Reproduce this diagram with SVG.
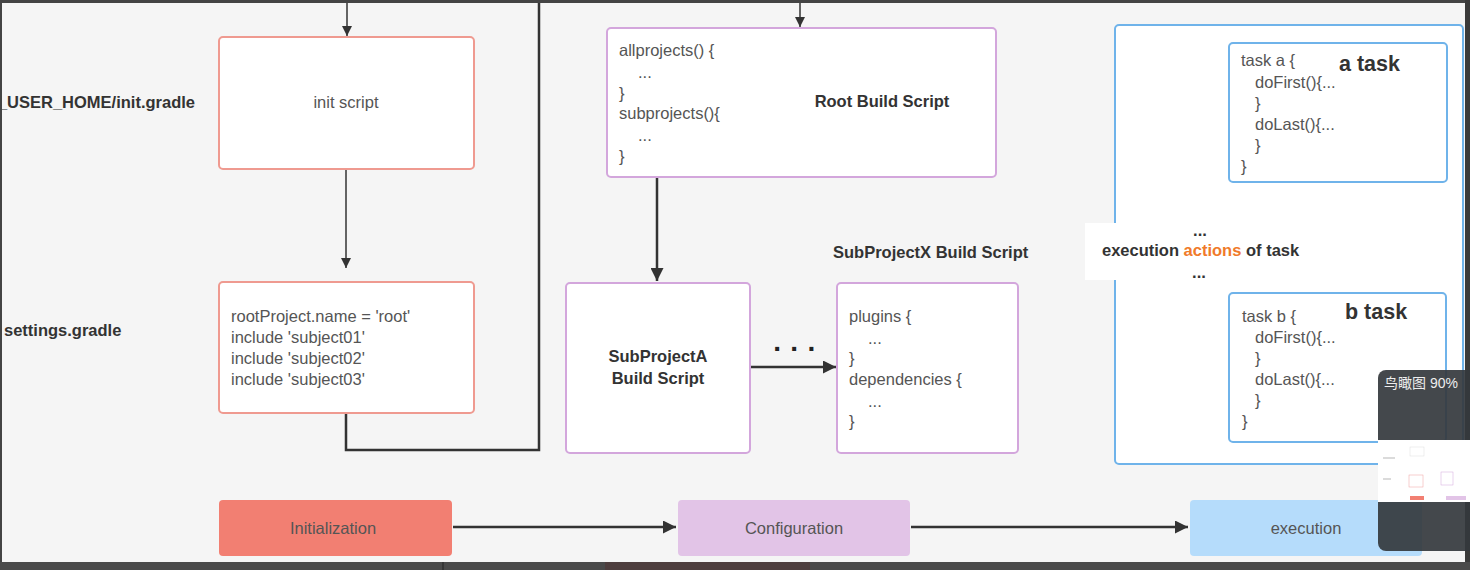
<svg xmlns="http://www.w3.org/2000/svg" width="1470" height="570" viewBox="0 0 1470 570">
<defs>
<style>
.t{font-family:"Liberation Sans",Arial,sans-serif;fill:#555;font-size:16.5px}
.b{font-family:"Liberation Sans",Arial,sans-serif;fill:#333;font-weight:bold;font-size:16.5px}
.big{font-family:"Liberation Sans",Arial,sans-serif;fill:#333;font-weight:bold;font-size:21.5px}
.red{fill:#fff;stroke:#ef9a90;stroke-width:2}
.pur{fill:#fff;stroke:#d3a6dc;stroke-width:2}
.blu{fill:#fff;stroke:#6fb3ea;stroke-width:2}
.ln{fill:none;stroke:#333;stroke-width:1.5}
.lnb{fill:none;stroke:#333;stroke-width:2.5}
</style>
<marker id="ah" viewBox="0 0 10 10" refX="10" refY="5" markerWidth="10" markerHeight="10" markerUnits="userSpaceOnUse" orient="auto"><path d="M0,0 L10,5 L0,10 z" fill="#333"/></marker>
<marker id="ahb" viewBox="0 0 10 10" refX="10" refY="5" markerWidth="13" markerHeight="13" markerUnits="userSpaceOnUse" orient="auto"><path d="M0,0 L10,5 L0,10 z" fill="#333"/></marker>
</defs>
<rect x="0" y="0" width="1470" height="570" fill="#f5f5f5"/>

<g id="labels">
<text class="b" x="195" y="108" text-anchor="end">_USER_HOME/init.gradle</text>
<text class="b" x="4" y="336">settings.gradle</text>
<text class="b" x="833" y="258">SubProjectX Build Script</text>
</g>

<g id="connectors">
<line class="ln" x1="347" y1="0" x2="347" y2="36" marker-end="url(#ah)"/>
<line class="ln" x1="346" y1="170" x2="346" y2="268" marker-end="url(#ah)"/>
<polyline class="lnb" points="346,413 346,450 539,450 539,0" stroke-width="2"/>
<line class="ln" x1="800" y1="0" x2="800" y2="27" marker-end="url(#ah)"/>
<line class="lnb" x1="657" y1="177" x2="657" y2="281" marker-end="url(#ahb)"/>
<line class="lnb" x1="750" y1="367" x2="836" y2="367" marker-end="url(#ahb)"/>
<line class="lnb" x1="1227" y1="114" x2="1201" y2="222" marker-end="url(#ahb)"/>
<line class="lnb" x1="1203" y1="283" x2="1228" y2="367" marker-end="url(#ahb)"/>
<line class="lnb" x1="453" y1="527" x2="676" y2="527" marker-end="url(#ahb)"/>
<line class="lnb" x1="911" y1="527" x2="1188" y2="527" marker-end="url(#ahb)"/>
</g>

<g id="init-script">
<rect class="red" x="219" y="37" width="255" height="132" rx="4"/>
<text class="t" x="346" y="108" text-anchor="middle">init script</text>
</g>

<g id="settings">
<rect class="red" x="219" y="282" width="255" height="131" rx="4"/>
<text class="t" x="231" y="322">rootProject.name = 'root'</text>
<text class="t" x="231" y="343">include 'subject01'</text>
<text class="t" x="231" y="364">include 'subject02'</text>
<text class="t" x="231" y="385">include 'subject03'</text>
</g>

<g id="root-build-script">
<rect class="pur" x="607" y="28" width="389" height="149" rx="4"/>
<text class="t" x="619" y="56">allprojects() {</text>
<text class="t" x="638" y="78">...</text>
<text class="t" x="619" y="99">}</text>
<text class="t" x="619" y="119">subprojects(){</text>
<text class="t" x="638" y="141">...</text>
<text class="t" x="619" y="162">}</text>
<text class="b" x="882" y="107" text-anchor="middle">Root Build Script</text>
</g>

<g id="subprojectA">
<rect class="pur" x="566" y="283" width="184" height="170" rx="4"/>
<text class="b" x="658" y="362" text-anchor="middle">SubProjectA</text>
<text class="b" x="658" y="384" text-anchor="middle">Build Script</text>
</g>

<g id="dots">
<text x="795" y="358" text-anchor="middle" font-family="'Liberation Sans',Arial,sans-serif" font-weight="bold" font-size="28" fill="#222">· · ·</text>
</g>

<g id="subprojectX">
<rect class="pur" x="837" y="283" width="181" height="170" rx="4"/>
<text class="t" x="849" y="322">plugins {</text>
<text class="t" x="868" y="344">...</text>
<text class="t" x="849" y="364">}</text>
<text class="t" x="849" y="385">dependencies {</text>
<text class="t" x="868" y="407">...</text>
<text class="t" x="849" y="427">}</text>
</g>

<g id="execution-area">
<rect class="blu" x="1115" y="25" width="348" height="439" rx="4"/>
</g>

<g id="task-a">
<rect class="blu" x="1229" y="43" width="218" height="139" rx="4"/>
<text class="t" x="1241" y="66">task a {</text>
<text class="t" x="1255" y="88">doFirst(){...</text>
<text class="t" x="1255" y="109">}</text>
<text class="t" x="1255" y="130">doLast(){...</text>
<text class="t" x="1255" y="151">}</text>
<text class="t" x="1241" y="172">}</text>
<text class="big" x="1339" y="71">a task</text>
</g>

<g id="actions-label">
<rect x="1085" y="223" width="215" height="57" fill="#fff"/>
<text class="b" x="1200" y="236" text-anchor="middle">...</text>
<text class="b" x="1102" y="256">execution <tspan fill="#f07a2a">actions</tspan> of task</text>
<text class="b" x="1199" y="278" text-anchor="middle">...</text>
</g>

<g id="task-b">
<rect class="blu" x="1229" y="293" width="217" height="149" rx="4"/>
<text class="t" x="1242" y="322">task b {</text>
<text class="t" x="1255" y="343">doFirst(){...</text>
<text class="t" x="1255" y="364">}</text>
<text class="t" x="1255" y="385">doLast(){...</text>
<text class="t" x="1255" y="406">}</text>
<text class="t" x="1242" y="427">}</text>
<text class="big" x="1345" y="319">b task</text>
</g>

<g id="initialization">
<rect x="219" y="500" width="233" height="56" rx="4" fill="#f27f72"/>
<text class="t" x="333" y="534" text-anchor="middle">Initialization</text>
</g>
<g id="configuration">
<rect x="678" y="500" width="232" height="56" rx="4" fill="#e2c4e7"/>
<text class="t" x="794" y="534" text-anchor="middle">Configuration</text>
</g>
<g id="execution">
<rect x="1190" y="500" width="232" height="56" rx="4" fill="#b5dcfb"/>
<text class="t" x="1306" y="534" text-anchor="middle">execution</text>
</g>

<g id="frame">
<rect x="0" y="0" width="1470" height="3" fill="#444"/>
<rect x="0" y="0" width="2" height="570" fill="#444"/>
<rect x="1465" y="0" width="5" height="570" fill="#3a3a3a"/>
<rect x="0" y="562" width="1470" height="8" fill="#4a4a4a"/>
<rect x="605" y="562" width="205" height="8" fill="#4e3e3e"/>
<line x1="443" y1="562" x2="443" y2="570" stroke="#222"/>
</g>

<g id="minimap">
<rect x="1378" y="370" width="100" height="181" rx="8" fill="#34383d" fill-opacity="0.92"/>
<text x="1384" y="388" font-family="'Liberation Sans','Noto Sans CJK SC',sans-serif" font-size="14" fill="#eee">鸟瞰图 90%</text>
<rect x="1378" y="440" width="92" height="62" fill="#fff"/>
<rect x="1410" y="447" width="14" height="9" fill="#fff" stroke="#ddd" stroke-width="0.5"/>
<rect x="1409" y="475" width="14" height="12" fill="#fff" stroke="#f0a0a0" stroke-width="0.5"/>
<rect x="1441" y="472" width="12" height="13" fill="#fff" stroke="#d3a6dc" stroke-width="0.5"/>
<rect x="1410" y="496" width="14" height="4" fill="#f27f72"/>
<rect x="1446" y="496" width="20" height="4" fill="#e2c4e7"/>
<line x1="1383" y1="458" x2="1395" y2="458" stroke="#888" stroke-width="0.6"/>
<line x1="1383" y1="479" x2="1391" y2="479" stroke="#888" stroke-width="0.6"/>
</g>
</svg>
